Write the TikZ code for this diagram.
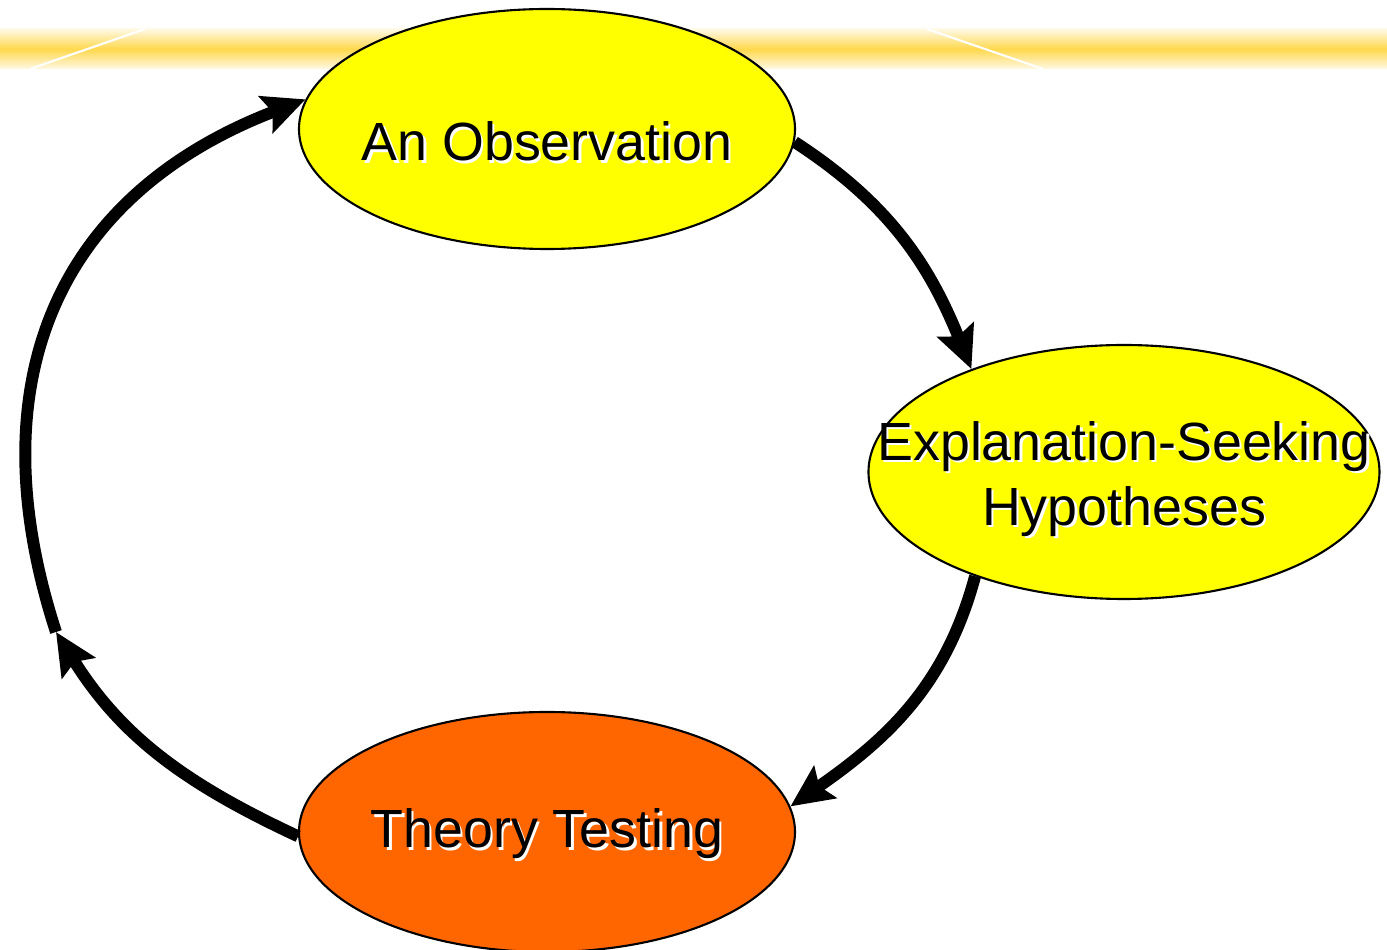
\documentclass[tikz,border=0pt]{standalone}
\usepackage{fontspec}
\setmainfont{Liberation Sans}
\usetikzlibrary{shapes.geometric,arrows.meta}

\definecolor{bandgold}{RGB}{255,216,77}
\definecolor{bandcream}{RGB}{255,249,228}
\definecolor{obsyellow}{RGB}{255,255,0}
\definecolor{testorange}{RGB}{255,102,0}

% white drop shadow behind a line of text
\newcommand{\shadowed}[1]{\makebox[0pt][l]{\hspace{0.7pt}\raisebox{-0.7pt}{\color{white}#1}}#1}

\begin{document}
\begin{tikzpicture}[
    bubble/.style={ellipse, draw, line width=0.6pt, inner sep=0pt},
    caption/.style={font=\fontsize{15.3}{18.5}\selectfont, align=center, inner sep=0pt},
    flow/.style={line width=3.4pt, -{Stealth[length=12pt,width=11pt,inset=2pt]}}]
    \useasboundingbox (0,0) rectangle (13.87,-9.50);
    \clip (0,0) rectangle (13.87,-9.50);

    % Draw header band
    \shade[top color=bandcream, bottom color=bandcream, middle color=bandgold] (0,-0.29) rectangle (13.87,-0.69);
    \draw[white, line width=0.6pt] (1.45,-0.29) -- (0.30,-0.69);
    \draw[white, line width=0.6pt] (9.27,-0.29) -- (10.43,-0.69);

    % Draw stages
    \node (obs) at (5.47, -1.29) [bubble, fill=obsyellow, minimum width=4.96cm, minimum height=2.40cm] {};
    \node (hyp) at (11.24, -4.72) [bubble, fill=obsyellow, minimum width=5.11cm, minimum height=2.54cm] {};
    \node (tst) at (5.47, -8.32) [bubble, fill=testorange, minimum width=4.96cm, minimum height=2.40cm] {};
    \coordinate (turn) at (0.56, -6.32);

    % Draw cycle arrows
    \draw[flow] (obs.-3) to[out=-33, in=112] (hyp.146); % observation to hypotheses
    \draw[flow] (hyp.215) to[out=-105, in=35] (tst.6); % hypotheses to testing
    \draw[flow] (tst.181) to[out=155, in=-58] (turn); % testing back up the left side
    \draw[flow] (turn) to[out=108, in=201, looseness=1.15] (obs.173); % and on to the observation

    % Draw labels
    \node (obstext) at (5.47, -1.43) [caption] {\shadowed{An Observation}};
    \node (hyptext) at (11.24, -4.80) [caption] {\shadowed{Explanation-Seeking}\\\shadowed{Hypotheses}};
    \node (tsttext) at (5.47, -8.35) [caption] {\shadowed{Theory Testing}};
\end{tikzpicture}
\end{document}
